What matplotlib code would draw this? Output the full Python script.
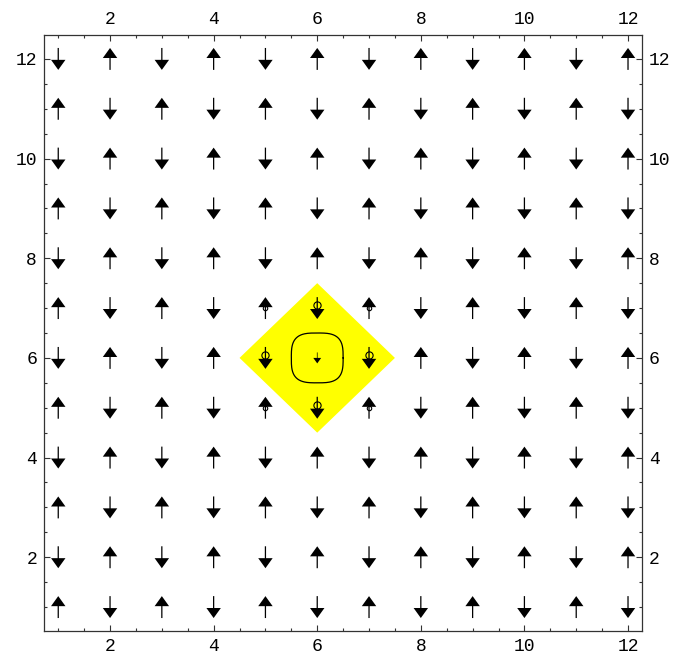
import numpy as np
import matplotlib.pyplot as plt
from matplotlib.patches import Polygon
from matplotlib.ticker import MultipleLocator

# lattice sites
xs = list(range(1, 13))
ys = list(range(1, 13))

# arrow directions per row, listed from y=12 down to y=1 (+1 up, -1 down)
spin_rows = [
    [-1, 1, -1, 1, -1, 1, -1, 1, -1, 1, -1, 1],
    [1, -1, 1, -1, 1, -1, 1, -1, 1, -1, 1, -1],
    [-1, 1, -1, 1, -1, 1, -1, 1, -1, 1, -1, 1],
    [1, -1, 1, -1, 1, -1, 1, -1, 1, -1, 1, -1],
    [-1, 1, -1, 1, -1, 1, -1, 1, -1, 1, -1, 1],
    [1, -1, 1, -1, 1, -1, 1, -1, 1, -1, 1, -1],
    [-1, 1, -1, 1, -1, -0.5, -1, 1, -1, 1, -1, 1],
    [1, -1, 1, -1, 1, -1, 1, -1, 1, -1, 1, -1],
    [-1, 1, -1, 1, -1, 1, -1, 1, -1, 1, -1, 1],
    [1, -1, 1, -1, 1, -1, 1, -1, 1, -1, 1, -1],
    [-1, 1, -1, 1, -1, 1, -1, 1, -1, 1, -1, 1],
    [1, -1, 1, -1, 1, -1, 1, -1, 1, -1, 1, -1],
]

# flipped site and the defect region around it
center = (6, 6)
diamond_radius = 1.5
loop_radius = 0.5
# neighbour sites marked with rings
ring_big = [(5, 6), (7, 6), (6, 5), (6, 7)]
ring_small = [(5, 7), (7, 7), (5, 5), (7, 5)]

tick_font = 'Liberation Mono'

fig = plt.figure(figsize=(6.73, 6.55), dpi=100)
ax = fig.add_axes([44 / 673, 24 / 655, 598 / 673, 596 / 655])

# yellow diamond |x-6| + |y-6| <= 1.5
cx, cy = center
r = diamond_radius
ax.add_patch(Polygon([(cx - r, cy), (cx, cy + r), (cx + r, cy), (cx, cy - r)],
                     closed=True, facecolor='#ffff00', edgecolor='none', zorder=1))

# rounded-square loop around the flipped site
t = np.linspace(0, 2 * np.pi, 400)
p = 3.2
lx = cx + loop_radius * np.sign(np.cos(t)) * np.abs(np.cos(t)) ** (2 / p)
ly = cy + loop_radius * np.sign(np.sin(t)) * np.abs(np.sin(t)) ** (2 / p)
ax.plot(lx, ly, color='black', lw=0.9, zorder=2)

X, Y = np.meshgrid(xs, ys[::-1])
V = np.array(spin_rows, dtype=float)
U = np.zeros_like(V)
ax.quiver(X, Y, U, V, pivot='middle', angles='xy', scale_units='y', scale=1 / 0.44,
          width=0.0021, headwidth=11.5, headlength=8, headaxislength=8,
          minshaft=2, color='black', zorder=3)

bx, by = zip(*ring_big)
ax.plot(bx, np.array(by) + 0.06, 'o', ms=5.2, mfc='none', mec='black', mew=0.8, zorder=4)
sx, sy = zip(*ring_small)
ax.plot(sx, sy, 'o', ms=3.2, mfc='none', mec='black', mew=0.8, zorder=4)

ax.set_xlim(0.725, 12.27)
ax.set_ylim(0.52, 12.48)

for axis in (ax.xaxis, ax.yaxis):
    axis.set_major_locator(MultipleLocator(2))
    axis.set_minor_locator(MultipleLocator(0.5))
ax.tick_params(which='both', direction='in', top=True, right=True,
               labeltop=True, labelright=True, width=0.8, color='#333333')
ax.tick_params(which='major', length=4.5, pad=5)
ax.tick_params(which='minor', length=2.2)
for lab in ax.get_xticklabels() + ax.get_yticklabels():
    lab.set_fontfamily(tick_font)
    lab.set_fontsize(13)
for spine in ax.spines.values():
    spine.set_linewidth(0.9)
    spine.set_color('#333333')

fig.savefig('out.png', dpi=100)
